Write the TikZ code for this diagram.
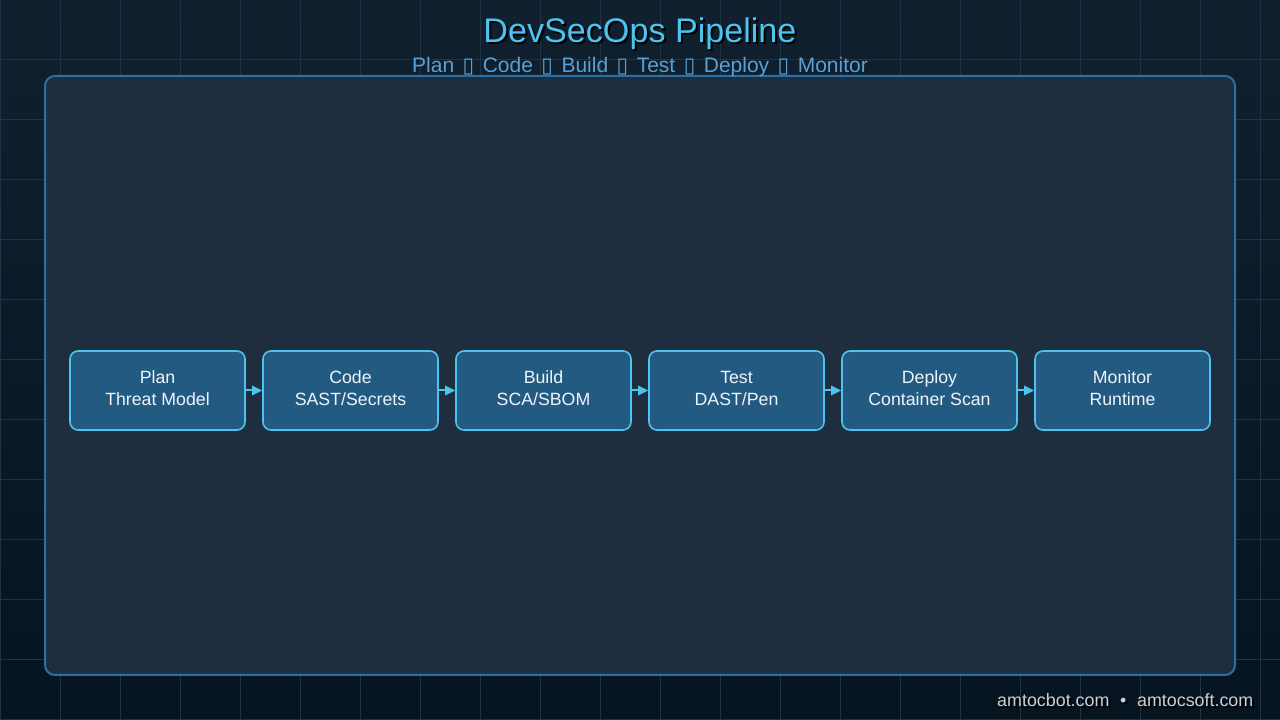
\documentclass[tikz,border=0pt]{standalone}
\usepackage{fontspec}
\setmainfont{Liberation Sans}
\newfontfamily\symfont{DejaVu Sans}
\usetikzlibrary{arrows.meta,shadings}
\definecolor{bgtop}{HTML}{10202F}
\definecolor{bgbot}{HTML}{061420}
\definecolor{gridc}{HTML}{1F3343}
\definecolor{panelfill}{HTML}{1E2E3E}
\definecolor{panelline}{HTML}{2A70A8}
\definecolor{nodefill}{HTML}{235A82}
\definecolor{nodeline}{HTML}{4CC4EE}
\definecolor{titlec}{HTML}{4EC3EF}
\definecolor{subc}{HTML}{5AA0D4}
\definecolor{nodetext}{HTML}{EEF4FA}
\definecolor{footc}{HTML}{C8D0D8}
\tikzset{
  stage/.style={draw=nodeline, fill=nodefill, line width=1.2pt, rounded corners=6pt,
    minimum width=131.25pt, minimum height=59.25pt, align=center, text=nodetext,
    font=\fontsize{13.3}{16.5}\selectfont, inner sep=0pt, text depth=3pt},
  flow/.style={draw=nodeline, line width=1.5pt, -{Triangle[length=7.5pt,width=7pt]}},
  gridline/.style={draw=gridc, line width=0.75pt},
}
\newcommand{\tofu}{\hspace{2pt}{\symfont ▯}\hspace{2pt}}
\begin{document}
\begin{tikzpicture}[x=0.75pt,y=0.75pt]
\useasboundingbox (0,0) rectangle (1280,720);
\shade[top color=bgtop, bottom color=bgbot] (0,0) rectangle (1280,720);
\foreach \gx in {0,60,...,1260} \draw[gridline] (\gx,0) -- (\gx,720);
\foreach \gy in {0,60,...,720} \draw[gridline] (0,\gy) -- (1280,\gy);
% panel
\draw[draw=panelline, fill=panelfill, line width=1.5pt, rounded corners=7.5pt] (45,45) rectangle (1235,644);
% title
\node[anchor=base, text=black, font=\fontsize{25.6}{30}\selectfont] at (642,675) {DevSecOps Pipeline};
\node[anchor=base, text=titlec, font=\fontsize{25.6}{30}\selectfont] (title) at (640,677) {DevSecOps Pipeline};
\node[anchor=base, text=subc, font=\fontsize{15.75}{19}\selectfont] (sub) at (640,647) {Plan \tofu{} Code \tofu{} Build \tofu{} Test \tofu{} Deploy \tofu{} Monitor};
% stages
\node[stage] (n1) at (157.5,329.5) {Plan\\Threat Model};
\node[stage] (n2) at (350.5,329.5) {Code\\SAST/Secrets};
\node[stage] (n3) at (543.5,329.5) {Build\\SCA/SBOM};
\node[stage] (n4) at (736.5,329.5) {Test\\DAST/Pen};
\node[stage] (n5) at (929.5,329.5) {Deploy\\Container Scan};
\node[stage] (n6) at (1122.5,329.5) {Monitor\\Runtime};
\draw[flow] (n1) -- (n2);
\draw[flow] (n2) -- (n3);
\draw[flow] (n3) -- (n4);
\draw[flow] (n4) -- (n5);
\draw[flow] (n5) -- (n6);
% footer
\node[anchor=base east, text=black, font=\fontsize{13.4}{16}\selectfont] at (1260,11) {amtocbot.com\hspace{0.6em}•\hspace{0.6em}amtocsoft.com};
\node[anchor=base east, text=footc, font=\fontsize{13.4}{16}\selectfont] (foot) at (1258,13) {amtocbot.com\hspace{0.6em}•\hspace{0.6em}amtocsoft.com};
\end{tikzpicture}
\end{document}
